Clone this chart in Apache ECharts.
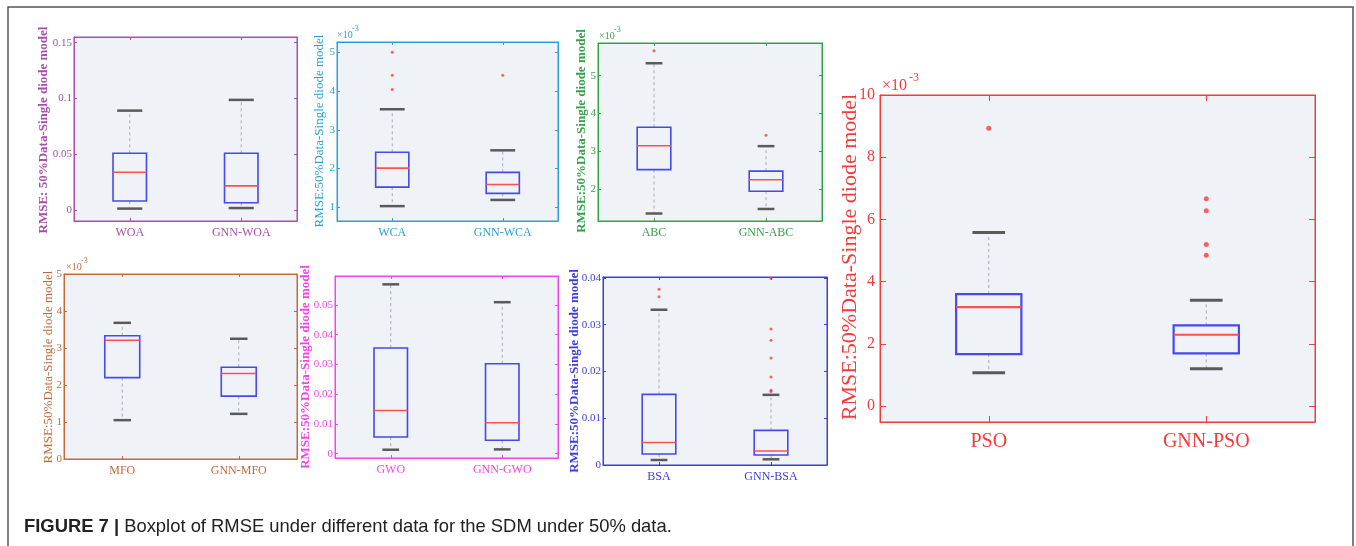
<!DOCTYPE html>
<html><head><meta charset="utf-8">
<script src="https://cdn.jsdelivr.net/npm/echarts@6/dist/echarts.min.js"></script>
<style>html,body{margin:0;padding:0;background:#fff}#c{width:1356px;height:546px}</style>
</head><body><div id="c"></div>
<script>
// ---- data: box stats are [lower whisker, Q1, median, Q3, upper whisker] ----
const woaCategories = ['WOA', 'GNN-WOA'];
const woaBoxStats = [[0.0015, 0.0083, 0.034, 0.051, 0.0892], [0.002, 0.0068, 0.0218, 0.051, 0.0988]];
const woaOutliers = [];
const woaTicks = [0, 0.05, 0.1, 0.15];

const wcaCategories = ['WCA', 'GNN-WCA'];   // values in units of 1e-3
const wcaBoxStats = [[1.03, 1.52, 2.01, 2.42, 3.53], [1.19, 1.36, 1.59, 1.90, 2.47]];
const wcaOutliers = [[0, 5.0], [0, 4.41], [0, 4.04], [1, 4.41]];
const wcaTicks = [1, 2, 3, 4, 5];

const abcCategories = ['ABC', 'GNN-ABC'];   // 1e-3
const abcBoxStats = [[1.36, 2.52, 3.15, 3.64, 5.33], [1.48, 1.95, 2.25, 2.48, 3.14]];
const abcOutliers = [[0, 5.66], [1, 3.43]];
const abcTicks = [2, 3, 4, 5];

const mfoCategories = ['MFO', 'GNN-MFO'];   // 1e-3
const mfoBoxStats = [[1.05, 2.20, 3.21, 3.33, 3.68], [1.22, 1.70, 2.31, 2.48, 3.25]];
const mfoOutliers = [];
const mfoTicks = [0, 1, 2, 3, 4, 5];

const gwoCategories = ['GWO', 'GNN-GWO'];
const gwoBoxStats = [[0.00134, 0.0056, 0.0145, 0.0355, 0.0569], [0.00145, 0.0045, 0.0104, 0.0302, 0.0509]];
const gwoOutliers = [];
const gwoTicks = [0, 0.01, 0.02, 0.03, 0.04, 0.05];

const bsaCategories = ['BSA', 'GNN-BSA'];
const bsaBoxStats = [[0.00107, 0.00235, 0.0048, 0.0151, 0.0332], [0.00122, 0.00214, 0.0030, 0.0074, 0.0150]];
const bsaOutliers = [[0, 0.0376], [0, 0.036], [1, 0.0399], [1, 0.0291], [1, 0.0267], [1, 0.0229], [1, 0.0188], [1, 0.0160], [1, 0.0157]];
const bsaTicks = [0, 0.01, 0.02, 0.03, 0.04];

const psoCategories = ['PSO', 'GNN-PSO'];   // 1e-3
const psoBoxStats = [[1.07, 1.67, 3.18, 3.60, 5.58], [1.20, 1.69, 2.29, 2.59, 3.40]];
const psoOutliers = [[0, 8.93], [1, 6.66], [1, 6.28], [1, 5.19], [1, 4.85]];
const psoTicks = [0, 2, 4, 6, 8, 10];

const yTitle = 'RMSE:50%Data-Single diode model';
const captionBold = 'FIGURE 7 |';
const captionText = 'Boxplot of RMSE under different data for the SDM under 50% data.';

// ---- layout / style ----
const small = {tf: 11, cf: 12, nf: 13, tl: 3, cm: 6, lm: 2, cap: 0.5, capW: 2.5, boxW: 1.6, medW: 1.6, os: 3};
const big = {tf: 16, cf: 20, nf: 22, tl: 6, cm: 10, lm: 5, cap: 0.5, capW: 3, boxW: 2.2, medW: 2.2, os: 5};
const panels = [
  Object.assign({}, small, {cats: woaCategories, stats: woaBoxStats, out: woaOutliers, ticks: woaTicks, color: '#a94ea9', g: [74, 37, 223, 184], min: -0.0096, max: 0.1551, bold: true, nc: [44, 130], cap: 0.75, name: 'RMSE: 50%Data-Single diode model'}),
  Object.assign({}, small, {cats: wcaCategories, stats: wcaBoxStats, out: wcaOutliers, ticks: wcaTicks, color: '#2aa0d6', g: [337, 42, 221, 179], min: 0.646, max: 5.266, bold: false, nc: [320, 131], cap: 0.75, exp: [337, 35]}),
  Object.assign({}, small, {cats: abcCategories, stats: abcBoxStats, out: abcOutliers, ticks: abcTicks, color: '#34a24b', g: [598, 43, 224, 178], min: 1.162, max: 5.865, bold: true, nc: [582, 131], exp: [599, 36]}),
  Object.assign({}, small, {cats: mfoCategories, stats: mfoBoxStats, out: mfoOutliers, ticks: mfoTicks, color: '#c26a3e', g: [64, 274, 233, 185], min: 0, max: 5, bold: false, nc: [49, 367], exp: [66, 267]}),
  Object.assign({}, small, {cats: gwoCategories, stats: gwoBoxStats, out: gwoOutliers, ticks: gwoTicks, color: '#f245e6', g: [335, 276, 223, 182], min: -0.00144, max: 0.0597, bold: true, nc: [306, 367]}),
  Object.assign({}, small, {cats: bsaCategories, stats: bsaBoxStats, out: bsaOutliers, ticks: bsaTicks, color: '#3d3ddc', g: [603, 277, 224, 188], min: 0, max: 0.0402, bold: true, nc: [575, 371]}),
  Object.assign({}, big, {cats: psoCategories, stats: psoBoxStats, out: psoOutliers, ticks: psoTicks, color: '#f23c3c', g: [880, 95, 435, 327], min: -0.515, max: 10, bold: false, nc: [850, 257], exp: [882, 86], expBig: true})
];

const serif = 'Liberation Serif';
function makeRender(p) {
  return function (params, api) {
    const j = api.value(0);
    const pt = k => api.coord([j, api.value(k)]);
    const lo = pt(1), q1 = pt(2), md = pt(3), q3 = pt(4), hi = pt(5);
    const band = api.size([1, 0])[0];
    const bw = band * 0.3, cw = bw * p.cap, cx = lo[0];
    const dash = {stroke: '#a3abbb', lineWidth: 1, lineDash: [3, 3]};
    const capS = {stroke: '#5a5a5a', lineWidth: p.capW};
    return {type: 'group', children: [
      {type: 'line', shape: {x1: cx, y1: q3[1], x2: cx, y2: hi[1]}, style: dash},
      {type: 'line', shape: {x1: cx, y1: q1[1], x2: cx, y2: lo[1]}, style: dash},
      {type: 'line', shape: {x1: cx - cw / 2, y1: hi[1], x2: cx + cw / 2, y2: hi[1]}, style: capS},
      {type: 'line', shape: {x1: cx - cw / 2, y1: lo[1], x2: cx + cw / 2, y2: lo[1]}, style: capS},
      {type: 'rect', shape: {x: cx - bw / 2, y: q3[1], width: bw, height: q1[1] - q3[1]}, style: {fill: 'none', stroke: '#4848ee', lineWidth: p.boxW}},
      {type: 'line', shape: {x1: cx - bw / 2, y1: md[1], x2: cx + bw / 2, y2: md[1]}, style: {stroke: '#ff5050', lineWidth: p.medW}}
    ]};
  };
}

const option = {animation: false, grid: [], xAxis: [], yAxis: [], series: [],
  title: {left: 24, top: 518, padding: 0, text: '{b|' + captionBold + '} {n|' + captionText + '}',
    textStyle: {fontWeight: 'normal', fontSize: 18.4, rich: {
      b: {fontFamily: 'Liberation Sans', fontWeight: 'bold', fontSize: 18.4, color: '#222'},
      n: {fontFamily: 'Liberation Sans', fontWeight: 'normal', fontSize: 18.4, color: '#222'}}}},
  graphic: [{type: 'rect', shape: {x: 8, y: 7, width: 1345, height: 600}, style: {fill: 'none', stroke: '#555', lineWidth: 1.5}, silent: true}]
};

panels.forEach((p, i) => {
  option.grid.push({left: p.g[0], top: p.g[1], width: p.g[2], height: p.g[3], show: true, backgroundColor: '#eff2f7', borderColor: p.color, borderWidth: 1});
  const line = {show: true, onZero: false, lineStyle: {color: p.color, width: 1}};
  const tick = {show: true, inside: true, length: p.tl, lineStyle: {color: p.color}};
  const xb = option.xAxis.length;
  option.xAxis.push({type: 'category', gridIndex: i, data: p.cats, position: 'bottom', axisLine: line,
    axisTick: Object.assign({alignWithLabel: true}, tick),
    axisLabel: {color: p.color, fontFamily: serif, fontSize: p.cf, margin: p.cm}, splitLine: {show: false}});
  option.xAxis.push({type: 'category', gridIndex: i, data: p.cats, position: 'top', axisLine: line,
    axisTick: Object.assign({alignWithLabel: true}, tick), axisLabel: {show: false}, splitLine: {show: false}});
  const yb = option.yAxis.length;
  option.yAxis.push({type: 'value', gridIndex: i, min: p.min, max: p.max, position: 'left', axisLine: line,
    axisTick: Object.assign({customValues: p.ticks}, tick),
    axisLabel: {customValues: p.ticks, color: p.color, fontFamily: serif, fontSize: p.tf, margin: p.lm},
    splitLine: {show: false}});
  option.yAxis.push({type: 'value', gridIndex: i, min: p.min, max: p.max, position: 'right', axisLine: line,
    axisTick: Object.assign({customValues: p.ticks}, tick), axisLabel: {show: false}, splitLine: {show: false}});
  option.series.push({type: 'custom', xAxisIndex: xb, yAxisIndex: yb, data: p.stats.map((s, j) => [j].concat(s)),
    encode: {x: 0, y: [1, 2, 3, 4, 5]}, renderItem: makeRender(p), z: 3});
  option.series.push({type: 'scatter', xAxisIndex: xb, yAxisIndex: yb, data: p.out, symbolSize: p.os,
    itemStyle: {color: '#ff3a3a'}, z: 4});
  option.graphic.push({type: 'text', x: p.nc[0], y: p.nc[1], rotation: Math.PI / 2,
    style: {text: p.name || yTitle, fill: p.color, font: (p.bold ? 'bold ' : '') + p.nf + 'px "Liberation Serif"', align: 'center', verticalAlign: 'middle'}});
  if (p.exp) {
    const f = p.expBig ? 16 : 10, fs = p.expBig ? 12 : 8;
    option.graphic.push({type: 'text', x: p.exp[0], y: p.exp[1], style: {text: '×10', fill: p.color, font: f + 'px "Liberation Serif"', align: 'left', verticalAlign: 'middle'}});
    option.graphic.push({type: 'text', x: p.exp[0] + (p.expBig ? 27 : 15), y: p.exp[1] - (p.expBig ? 8 : 6), style: {text: '-3', fill: p.color, font: fs + 'px "Liberation Serif"', align: 'left', verticalAlign: 'middle'}});
  }
});

const chart = echarts.init(document.getElementById('c'));
chart.setOption(option);
</script></body></html>
